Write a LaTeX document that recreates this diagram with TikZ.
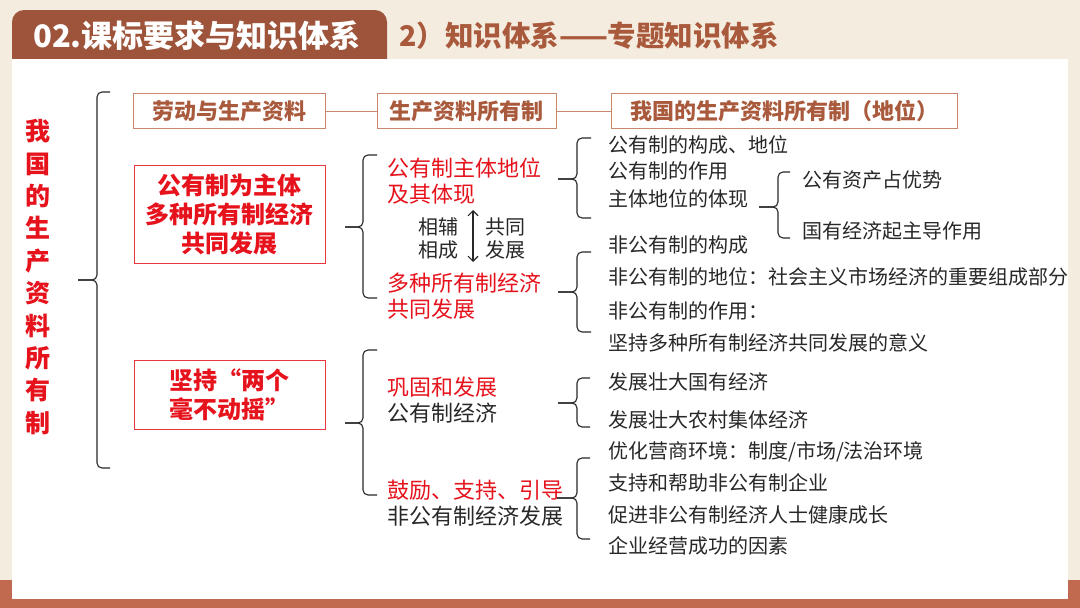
\documentclass[tikz,border=0pt]{standalone}
\usepackage{fontspec}
\setmainfont{Noto Sans CJK SC}
\usepackage{xcolor}
\definecolor{kRed}{RGB}{230,18,28}
\definecolor{kBrown}{RGB}{158,84,58}
\definecolor{kHead}{RGB}{170,90,60}
\definecolor{kFrame}{RGB}{200,135,110}
\definecolor{kBeige}{RGB}{245,236,224}
\definecolor{kBar}{RGB}{194,106,80}
\definecolor{kInk}{RGB}{40,40,40}
\usetikzlibrary{arrows.meta, positioning}

% brace: tip x, spine x, hook x, top y, tip y, bottom y
\newcommand{\kbrace}[6]{%
  \draw[brace] (#3,#4) -- (#2,#4) -- (#2,#5) -- (#1,#5);
  \draw[brace] (#3,#6) -- (#2,#6) -- (#2,#5) -- (#1,#5);}

\begin{document}
\begin{tikzpicture}[x=1pt, y=-1pt,
  headbox/.style={rectangle, draw=kFrame, line width=1pt, fill=white,
                  minimum height=35pt, inner sep=0pt, text=kHead,
                  font=\fontsize{22}{26}\selectfont\bfseries},
  mainbox/.style={rectangle, draw=kRed!85, line width=1pt, minimum width=191pt,
                  inner sep=0pt, align=center, text=kRed,
                  font=\fontsize{24}{29}\selectfont\bfseries},
  midtext/.style={anchor=west, inner sep=0pt, align=left, text=kInk,
                  font=\fontsize{22}{26}\selectfont},
  item/.style={anchor=west, inner sep=0pt, text=kInk,
               font=\fontsize{20}{24}\selectfont},
  brace/.style={draw=kInk, line width=1.1pt, rounded corners=5pt},
  link/.style={draw=kFrame, line width=1pt},
  dbl/.style={{Straight Barb[length=5pt]}-{Straight Barb[length=5pt]}, line width=1.1pt, kInk},
]
  \useasboundingbox (0,0) rectangle (1080,608);
  % page
  \fill[kBeige] (0,0) rectangle (1080,608);
  \fill[kBar] (0,580) rectangle (1080,608);
  \fill[kBrown, rounded corners=12pt] (12,10) rectangle (387,80);
  \fill[white] (12,58.5) rectangle (1068,599);

  % title
  \node[anchor=west, inner sep=0pt, text=white, font=\fontsize{31}{34}\selectfont\bfseries]
    (title) at (33,36) {02.课标要求与知识体系};
  \node[anchor=west, inner sep=0pt, text=kHead, font=\fontsize{28.5}{32}\selectfont\bfseries]
    (subtitle) at (399,36) {2）知识体系——专题知识体系};

  % head row
  \node[headbox, minimum width=192pt] (h1) at (229,111) {劳动与生产资料};
  \node[headbox, minimum width=179pt, right=51pt of h1] (h2) {生产资料所有制};
  \node[headbox, minimum width=346pt, right=54pt of h2] (h3) {我国的生产资料所有制（地位）};
  \draw[link] (h1) -- (h2);
  \draw[link] (h2) -- (h3);

  % left column
  \node[inner sep=0pt, align=center, text=kRed,
        font=\fontsize{25}{32.4}\selectfont\bfseries] (root) at (37.5,277)
    {我\\国\\的\\生\\产\\资\\料\\所\\有\\制};
  \kbrace{78}{97}{110}{92}{280}{468}

  \node[mainbox, minimum height=98pt] (m1) at (229.5,214)
    {公有制为主体\\多种所有制经济\\共同发展};
  \node[mainbox, minimum height=69pt] (m2) at (229.5,394.5)
    {坚持“两个\\毫不动摇”};

  % middle column
  \kbrace{345}{363}{377}{155}{227}{298}
  \node[midtext, text=kRed] (p1) at (387,181) {公有制主体地位\\及其体现};
  \node[midtext, text=kRed] (p2) at (387,296) {多种所有制经济\\共同发展};
  \node[item, align=left, font=\fontsize{20}{23}\selectfont] (fx) at (418,238.5) {相辅\\相成};
  \node[item, align=left, font=\fontsize{20}{23}\selectfont] (gt) at (485,238.5) {共同\\发展};
  \coordinate (arrTop) at (473,210);
  \coordinate (arrBot) at (473,262);
  \draw[dbl] (arrTop) -- (arrBot);

  \kbrace{345}{363}{377}{350}{423}{495}
  \node[midtext] (p3) at (387,400.5) {{\color{kRed}巩固和发展}\\公有制经济};
  \node[midtext] (p4) at (387,503) {{\color{kRed}鼓励、支持、引导}\\非公有制经济发展};

  % right column
  \kbrace{558}{577}{591}{138}{179}{218}
  \node[item] (a1) at (608,145) {公有制的构成、地位};
  \node[item] (a2) at (608,171) {公有制的作用};
  \node[item] (a3) at (608,199) {主体地位的体现};
  \kbrace{759}{778}{790}{172}{207}{238}
  \node[item] (b1) at (802,180) {公有资产占优势};
  \node[item] (b2) at (802,231) {国有经济起主导作用};

  \kbrace{558}{577}{591}{252}{292}{332}
  \node[item] (c1) at (608,245) {非公有制的构成};
  \node[item] (c2) at (608,277) {非公有制的地位：社会主义市场经济的重要组成部分};
  \node[item] (c3) at (608,311) {非公有制的作用：};
  \node[item] (c4) at (608,343) {坚持多种所有制经济共同发展的意义};

  \kbrace{558}{577}{590}{378}{403}{427}
  \node[item] (d1) at (608,382) {发展壮大国有经济};
  \node[item] (d2) at (608,420) {发展壮大农村集体经济};

  \kbrace{557}{577}{590}{458}{498}{539}
  \node[item] (e1) at (608,452) {优化营商环境：制度/市场/法治环境};
  \node[item] (e2) at (608,483) {支持和帮助非公有制企业};
  \node[item] (e3) at (608,515) {促进非公有制经济人士健康成长};
  \node[item] (e4) at (608,546) {企业经营成功的因素};
\end{tikzpicture}
\end{document}
